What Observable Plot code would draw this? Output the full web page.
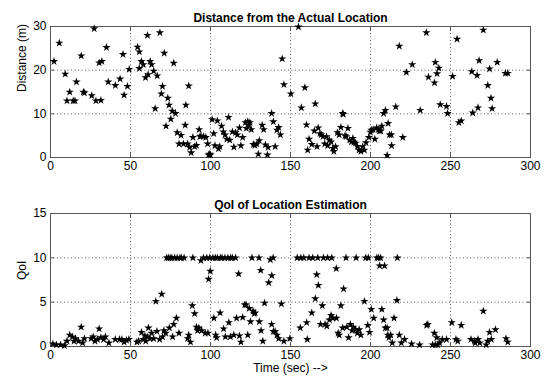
<!DOCTYPE html>
<html>
<head>
<meta charset="utf-8">
<script src="https://cdn.jsdelivr.net/npm/d3@7"></script>
<script src="https://cdn.jsdelivr.net/npm/@observablehq/plot@0.6"></script>
<style>
  html, body { margin: 0; padding: 0; background: #fff; }
  #chart { width: 547px; height: 377px; overflow: hidden; }
  #chart svg { display: block; }
</style>
</head>
<body>
<div id="chart"></div>
<script>
// Distance of the estimate from the actual location, sampled over time
const distTime = [
  2.2,5.5,9.2,10.3,12,14.2,15.3,16.2,19.2,20.6,21.2,25.8,27.3,28.4,30.4,32.1,31.5,35,36.1,40.5,43.5,45.3,46,48.1,49.2,
  54.4,55.5,55.5,56.8,58,59.4,60.6,61,62.3,63.2,64.5,65.4,66.7,68.4,69.3,70,71.1,72.2,73.3,74.1,75.2,76.1,77,78.1,79.2,80.3,81.6,83.1,84.2,84.6,85.7,86.4,87,87.9,89,90.1,91.2,92.9,93.4,94,95.6,97.1,98.2,98.8,99.5,100,
  101,102,102.8,104.3,105,105.8,106.9,108,109.1,110.2,111.3,112,113.7,114.6,115.7,116.8,118.1,119,120.1,121.8,122.4,123.3,124,124.6,125.5,126.8,127.7,129,129.9,130.5,132.3,133.2,134.3,135.6,136,138.2,139.3,140.4,141.5,142.6,143.7,144.8,145.9,
  150.2,155,156.8,159,160,160.7,161.6,163.3,164.9,165.5,166.6,167.3,168.4,169.2,170.3,171.4,172.5,173.2,174.3,175.4,176.5,177.1,178.2,179.3,180.4,181.5,182.6,183,184.1,184.8,185.9,187,188.1,189,189.6,190.7,191.8,192.9,194,195.1,196.2,
  197.2,199,200,200.5,201.6,202.7,203.8,204.9,205.6,206.4,207.1,208.2,209.3,210.4,211,211.9,213,213.2,215.8,218,220.2,222.4,226.1,231.1,234.9,236.2,240,240.5,241.6,242.7,243.6,247.5,248.2,
  251.3,254.1,255.2,256.7,263.3,263.9,266.6,267.2,267.9,270.5,273.3,274.4,275.3,276,279.2,284.3,285.8
];
const distValue = [
  22.0,26.2,19.1,13.0,15,13,13,17.3,23.3,15,14.8,14.2,29.5,13,21.7,22,13.1,25.2,17.3,16.5,18,23.6,14.3,16.3,20.2,
  25.3,24.2,20.4,22,21.3,18.3,28,19,22,21.3,19.8,11.2,18.7,28.6,14.6,16.3,23.9,7.2,13.6,12,8.8,10.6,21.6,10.1,5.7,3.1,5.1,3.1,7.4,12,3.1,16.4,2.3,1.1,4.6,2.5,2.8,6.4,4.8,4.9,4.8,4.6,3.1,0.6,0.8,0.6,
  8.7,5.5,2.7,8.4,2,2.5,7.2,5.9,5.2,4.2,9.2,4,5.9,2.4,5.7,5.2,6.8,2.7,4.6,8,6.7,8.2,7.4,8,6.4,3,2.8,3.1,0.8,3.9,7.4,6.4,2.9,0.6,2.3,10.1,8.2,2.5,6.3,6.9,5.2,22.6,16.7,
  14.6,29.9,11.4,16,7.5,1.7,4.2,3,6.1,12.3,2.5,6.8,5.5,5.2,4.8,3.1,4.8,2.7,4,3.6,2.1,1.4,2.5,5.7,5.2,6.9,10.1,9.9,5,4.8,6.7,4,3.6,4.4,3.5,3.3,2.5,1.7,1.4,2.5,1.7,
  3.4,4.6,5.8,6.3,6.4,4.2,6.8,6.4,6.1,6.1,7.2,10.1,10.8,0.5,7.8,5.2,5.2,2.7,11.6,25.5,4.6,19.5,21.3,10.8,28.6,18.4,17.1,21.8,19.2,20.5,12.1,11.7,10.1,
  18.6,27.1,8,8.4,19.7,10.2,18.8,11.4,22.2,29.2,16.5,20.3,13.6,11.2,21.8,19.3,19.3
];

// Quality of information (QoI) of each location estimate
const qoiTime = [
  1.5,3.7,6.3,8.7,10.3,12,13.6,14.7,15.7,17.5,19.2,20.1,21.2,25.4,26.7,27.8,29.3,30.4,31.5,33.2,34.3,36.5,40.5,43.1,44.6,46,47.5,49,
  54,55.1,56.9,58,59,59.5,60.6,61.2,62.1,63.2,64.5,65.8,66.5,68.2,69.5,70,70.9,72,72.6,73.7,74.3,74.8,75.9,76.3,77,77.6,78.7,79.2,80.3,80.9,81.8,83.5,85.7,86.4,87.5,88.6,89,90.1,91.2,91.9,92.7,94,94.5,95.6,96.7,97.7,98.4,98.8,99.5,99.9,
  101.5,102.1,103,103.2,103.9,104.3,106,106.2,107.2,108.2,109,109.3,110.9,111.5,112.4,112.6,113.7,114.6,115.7,116.3,117.6,118.1,119,120.1,121.4,122.2,123.3,124.2,125,125.9,126.6,127.3,127.9,130.3,131.4,130.5,131.6,132.7,133.8,136.4,137.4,138.3,139.2,138.2,139.3,140.4,141.5,142.6,144.3,145.9,149.6,
  154.2,156.1,156.5,158.3,160.1,160.5,161.6,163.3,163.9,165.5,166.4,167,167.4,168.8,169.9,170.6,171.6,172.7,173.2,174.3,175.4,175.8,176.5,178.6,178.7,179.8,180.4,181.5,182.6,183.2,184.7,185.2,186.3,187.4,188.5,189.2,191,190.7,191.8,192.9,194,197,196.2,198.6,198.3,199.4,
  200.5,202,204,205,205.7,206.3,208.8,207.1,208.2,209.3,210.4,210.8,211.5,212.6,213.6,214.7,216.8,216.5,218,219.3,221.3,225.7,230.7,235.1,235.8,238.8,239.9,240.5,241.4,242,243.2,244.9,247.5,
  250.8,253.4,254.5,256.7,262.8,265,265.4,267.2,268.3,270.5,272.3,273.3,274.4,275.5,278.1,284.7,285.8
];
const qoiValue = [
  0.3,0.2,0.2,0.1,0.6,1.3,1.1,0.6,0.9,0.6,2.2,0.4,0.9,0.9,1.1,0.6,0.8,2,1,0.8,1.1,0.4,0.8,0.8,0.8,0.5,0.7,0.8,
  0.5,0.6,1.6,0.8,1.2,0.6,1.1,2.1,0.9,1.5,0.9,5.1,1.7,0.8,5.9,1.1,1.8,1.5,10,10,2.1,10,10,1.1,2.5,10,3.2,10,1.5,10,10,10,0.9,1.3,0.5,4.6,10,3.7,2.2,1.8,2.1,9.7,1.8,10,1.5,10,1.5,7.6,10,8.5,
  10,3.2,10,1.3,1,10,3.8,10,10,2,10,1.1,10,2.7,1.1,10,10,1.3,10,3.2,8.2,1.2,0.5,3.3,4.7,4.7,1.3,4.3,2.8,10,4,3.7,3.8,10,8.6,2.8,1.8,0.6,4.9,7.2,9.8,8,10,2.5,1.7,1.7,1.3,0.9,4.8,0.6,0.9,
  10,2.1,10,10,2.7,0.8,10,3.8,10,5.4,8.1,10,6.9,2.5,4.6,10,2.5,2.3,10,3,3.5,10,3.2,8.8,3.2,1.5,1.3,4.6,2.1,6.5,10,2.2,1,2.5,1.8,2.2,10,1.9,1.5,1.9,1.3,10,5.1,10,2.4,1.6,
  4.2,3.2,10,10,9.1,10,9.1,4.2,3,2.1,2.1,1.3,1,1.3,0.4,3.2,10,5.2,1.3,0.4,0.8,0.3,0.2,2.4,2.5,0.2,1.5,0.2,1,0.2,0.4,0.8,0.8,
  2.7,0.8,0.6,2.4,0.8,0.6,0.4,0.8,0.4,4,0.2,0.6,1.6,0.8,1.9,0.9,0.5
];

const xTicks = [0, 50, 100, 150, 200, 250, 300];
const distTicks = [0, 10, 20, 30];
const qoiTicks = [0, 5, 10, 15];

const FONT = "'Liberation Sans', Arial, Helvetica, sans-serif";

function panel({time, value, yDomain, yTicks, title, yLabel, xLabel, height, marginTop, marginBottom}) {
  const innerX = xTicks.slice(1, -1);
  const innerY = yTicks.slice(1, -1);
  const marks = [
    Plot.gridX(innerX, {stroke: "#000", strokeOpacity: 0.65, strokeDasharray: "1,2.5"}),
    Plot.gridY(innerY, {stroke: "#000", strokeOpacity: 0.65, strokeDasharray: "1,2.5"}),
    Plot.frame({stroke: "#555", strokeWidth: 1}),
    // MATLAB-style inward ticks on all four sides
    Plot.axisX(xTicks, {anchor: "bottom", tickSize: -4, tickPadding: 8, label: null, fontSize: 12, stroke: "#555"}),
    Plot.axisX(xTicks, {anchor: "top", tickSize: -4, tickFormat: () => "", label: null, stroke: "#555"}),
    Plot.axisY(yTicks, {anchor: "left", tickSize: -4, tickPadding: 8, label: null, fontSize: 12, stroke: "#555"}),
    Plot.axisY(yTicks, {anchor: "right", tickSize: -4, tickFormat: () => "", label: null, stroke: "#555"}),
    Plot.dot(time, {x: time, y: value, symbol: "star", r: 2.6, fill: "#000", stroke: "none"}),
    Plot.text([title], {text: d => d, frameAnchor: "top", dy: -13, fontWeight: "bold", fontSize: 12}),
    Plot.text([yLabel], {text: d => d, frameAnchor: "left", rotate: -90, dx: -28, fontSize: 12})
  ];
  if (xLabel) {
    marks.push(Plot.text([xLabel], {text: d => d, frameAnchor: "bottom", dy: 25, fontSize: 12}));
  }
  return Plot.plot({
    width: 547,
    height,
    marginLeft: 50,
    marginRight: 17,
    marginTop,
    marginBottom,
    style: {fontFamily: FONT, fontSize: "12px", color: "#000", background: "#fff", overflow: "visible"},
    x: {domain: [0, 300]},
    y: {domain: yDomain},
    marks
  });
}

const chart = document.getElementById("chart");
chart.append(panel({
  time: distTime, value: distValue, yDomain: [0, 30], yTicks: distTicks,
  title: "Distance from the Actual Location", yLabel: "Distance (m)",
  height: 185, marginTop: 26, marginBottom: 28
}));
chart.append(panel({
  time: qoiTime, value: qoiValue, yDomain: [0, 15], yTicks: qoiTicks,
  title: "QoI of Location Estimation", yLabel: "QoI", xLabel: "Time (sec) -->",
  height: 192, marginTop: 28, marginBottom: 31
}));
</script>
</body>
</html>
